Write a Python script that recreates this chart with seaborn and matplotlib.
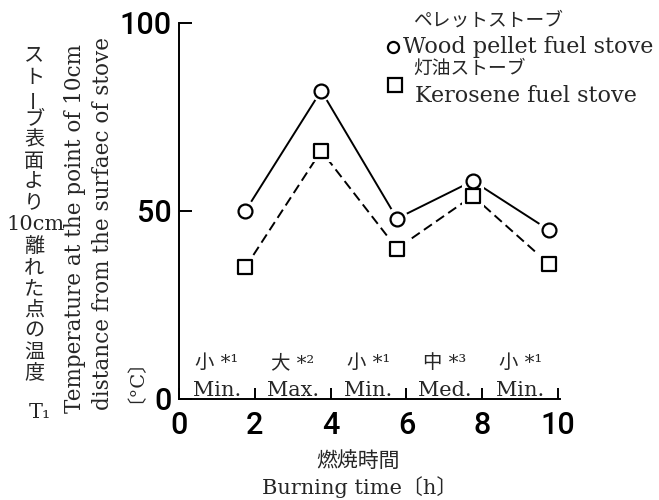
import matplotlib
matplotlib.use("Agg")
import matplotlib.pyplot as plt
import seaborn as sns
import pandas as pd

# Burning time (h) at which each reading was taken, and the readings (°C)
burn_hours = [1.75, 3.75, 5.75, 7.75, 9.75]
pellet_temp = [50, 82, 48, 58, 45]
kerosene_temp = [35, 66, 40, 54, 36]

# Combustion setting used in each 2-hour period
period_edges = [0, 2, 4, 6, 8, 10]
setting_jp = ["小", "大", "小", "中", "小"]
setting_note = ["¹", "²", "¹", "³", "¹"]
setting_en = ["Min.", "Max.", "Min.", "Med.", "Min."]

x_ticks = [0, 2, 4, 6, 8, 10]
y_ticks = [0, 50, 100]

W, H = 659, 500
JP = "Noto Sans CJK JP"

sns.set_theme(style="white")
plt.rcParams["font.family"] = ["DejaVu Serif", JP]
plt.rcParams["axes.unicode_minus"] = False


def fx(px):
    return px / W


def fy(py):
    return 1 - py / H


fig = plt.figure(figsize=(W / 100, H / 100), dpi=100)
ax = fig.add_axes([fx(179), fy(399), (560 - 179) / W, (399 - 23) / H])

df = pd.DataFrame({
    "hour": burn_hours + burn_hours,
    "temp": pellet_temp + kerosene_temp,
    "stove": ["pellet"] * len(burn_hours) + ["kerosene"] * len(burn_hours),
})
styles = {
    "pellet": ("o", "-"),
    "kerosene": ("s", (0, (5, 2.6))),
}

# connecting lines
for name, (mk, ls) in styles.items():
    sub = df[df["stove"] == name]
    sns.lineplot(data=sub, x="hour", y="temp", color="black", linewidth=1.4,
                 linestyle=ls, ax=ax, zorder=2, legend=False)
# white gap around each marker
for name, (mk, ls) in styles.items():
    sub = df[df["stove"] == name]
    sns.scatterplot(data=sub, x="hour", y="temp", marker=mk, s=250,
                    color="white", edgecolor="none", linewidth=0, ax=ax,
                    zorder=3, legend=False)
# open markers
for name, (mk, ls) in styles.items():
    sub = df[df["stove"] == name]
    sns.scatterplot(data=sub, x="hour", y="temp", marker=mk, s=100,
                    color="white", edgecolor="black", linewidth=1.6, ax=ax,
                    zorder=4, legend=False)

ax.set_xlim(0, 10.05)
ax.set_ylim(0, 100)
ax.set_xticks(x_ticks)
ax.set_yticks(y_ticks)
ax.set_xticklabels([str(v) for v in x_ticks])
ax.set_yticklabels([str(v) for v in y_ticks])
ax.set_xlabel("")
ax.set_ylabel("")
for side in ("top", "right"):
    ax.spines[side].set_visible(False)
for side in ("left", "bottom"):
    ax.spines[side].set_color("black")
    ax.spines[side].set_linewidth(1.4)
ax.tick_params(axis="y", left=True, direction="in", length=9.5, width=1.4,
               pad=5, labelsize=22, color="black")
ax.tick_params(axis="x", bottom=True, direction="in", length=8, width=1.4,
               pad=9, labelsize=22, color="black")
for lab in ax.get_xticklabels() + ax.get_yticklabels():
    lab.set_fontfamily("Roboto")
    lab.set_fontweight("medium")
    lab.set_color("black")

# combustion setting of each period
for i in range(len(setting_en)):
    mid = (period_edges[i] + period_edges[i + 1]) / 2
    ax.text(mid, 8.3, f"{setting_jp[i]} *{setting_note[i]}", ha="center",
            va="baseline", fontsize=14, family=["DejaVu Serif", JP])
    ax.text(mid, 0.9, setting_en[i], ha="center", va="baseline", fontsize=15)

# legend
fig.text(fx(413), fy(20), "ペレットストーブ", ha="left", va="center",
         fontsize=13.5, family=[JP])
fig.text(fx(403), fy(53), "Wood pellet fuel stove", ha="left",
         va="baseline", fontsize=16)
fig.text(fx(413), fy(68), "灯油ストーブ", ha="left", va="center",
         fontsize=13.5, family=[JP])
fig.text(fx(415), fy(102), "Kerosene fuel stove", ha="left",
         va="baseline", fontsize=16)
ax.plot([fx(393)], [fy(47)], marker="o", ms=8, mfc="white", mec="black",
        mew=1.6, transform=fig.transFigure, clip_on=False, linestyle="none")
ax.plot([fx(395)], [fy(85)], marker="s", ms=9.4, mfc="white", mec="black",
        mew=1.6, transform=fig.transFigure, clip_on=False, linestyle="none")

# y-axis title: Japanese set vertically
jp_upper = "ストーブ表面より"
jp_lower = "離れた点の温度"
for k, ch in enumerate(jp_upper):
    fig.text(fx(34), fy(56 + 21 * k), ch, ha="center", va="center",
             fontsize=14.5, family=[JP], rotation=90 if ch == "ー" else 0,
             rotation_mode="anchor")
fig.text(fx(36), fy(225), "10cm", ha="center", va="center", fontsize=15)
for k, ch in enumerate(jp_lower):
    fig.text(fx(34), fy(247 + 21 * k), ch, ha="center", va="center",
             fontsize=14.5, family=[JP])
fig.text(fx(40), fy(412), "T₁", ha="center", va="center", fontsize=15)

fig.text(fx(75), fy(413), "Temperature at the point of 10cm", rotation=90,
         ha="center", va="bottom", fontsize=15.5)
fig.text(fx(103), fy(410), "distance from the surfaec of stove", rotation=90,
         ha="center", va="bottom", fontsize=15.5)
fig.text(fx(126), fy(403), "〔°C〕", rotation=90, ha="center", va="bottom",
         fontsize=14)

# x-axis title
fig.text(fx(358), fy(461), "燃焼時間", ha="center", va="center", fontsize=15,
         family=[JP])
fig.text(fx(360), fy(476), "Burning time〔h〕", ha="center", va="top",
         fontsize=15)

fig.savefig("out.png", dpi=100)
